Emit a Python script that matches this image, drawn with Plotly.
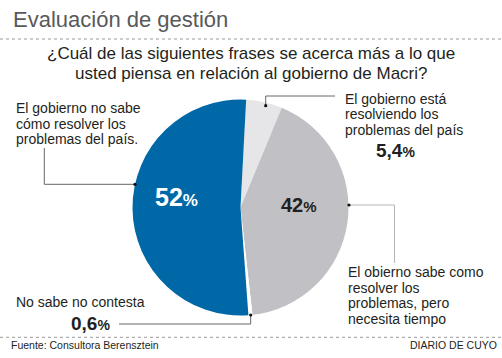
import plotly.graph_objects as go

W, H = 502, 358

# ---- data ----
slice_labels = ["El gobierno está resolviendo los problemas del país",
                "El obierno sabe como resolver los problemas, pero necesita tiempo",
                "No sabe no contesta",
                "El gobierno no sabe cómo resolver los problemas del país."]
slice_values = [5.4, 42, 0.6, 52]
slice_colors = ["#e6e6e8", "#c1c0c5", "#ffffff", "#0068a6"]
value_text = ["5,4", "42", "0,6", "52"]

title_text = "Evaluación de gestión"
subtitle_lines = ["¿Cuál de las siguientes frases se acerca más a lo que",
                  "usted piensa en relación al gobierno de Macri?"]
label_left = ["El gobierno no sabe", "cómo resolver los", "problemas del país."]
label_top_right = ["El gobierno está", "resolviendo los", "problemas del país"]
label_bottom_right = ["El obierno sabe como", "resolver los", "problemas, pero", "necesita tiempo"]
label_bottom_left = ["No sabe no contesta"]
source_text = "Fuente: Consultora Berensztein"
brand_text = "DIARIO DE CUYO"

FONT = "Liberation Sans, Arial, sans-serif"
NARROW = "Liberation Sans Narrow, Liberation Sans, Arial, sans-serif"
TXT = "#231f20"
LBL = 14          # label font size
LS = 15.8         # label line step

fig = go.Figure()

# pie geometry in pixels
cx, cy, r = 240.5, 207.5, 108
fig.add_trace(go.Pie(
    labels=slice_labels, values=slice_values, sort=False,
    direction="clockwise", rotation=3,
    marker=dict(colors=slice_colors, line=dict(width=0)),
    textinfo="none", hoverinfo="label+value", showlegend=False,
    domain=dict(x=[(cx - r) / W, (cx + r) / W], y=[1 - (cy + r) / H, 1 - (cy - r) / H]),
))

ann = []


def text(x, baseline, s, size, color=TXT, anchor="left", family=FONT):
    ann.append(dict(x=x, y=baseline - 0.3465 * size, xref="x", yref="y", text=s,
                    showarrow=False, xanchor=anchor, yanchor="middle", borderpad=0,
                    font=dict(family=family, size=size, color=color)))


def block(x, mid_baseline, lines):
    n = len(lines)
    for i, s in enumerate(lines):
        text(x, mid_baseline + (i - (n - 1) / 2) * LS, s, LBL)


def pct(v, small):
    return f"<b>{v}<span style='font-size:{small}px'>%</span></b>"


# title & subtitle
text(12, 27.3, title_text, 22, "#58595b")
text(251, 59.3, subtitle_lines[0], 17, TXT, "center")
text(251, 79.5, subtitle_lines[1], 17, TXT, "center")

# labels
block(15, 128.5, label_left)
block(344, 119.2, label_top_right)
text(395, 156.7, pct(value_text[0], 14), 19, TXT, "center")
block(347, 300.4, label_bottom_right)
text(15, 306.7, label_bottom_left[0], LBL)
text(90, 330, pct(value_text[2], 14), 19, TXT, "center")

# in-slice percentages
text(176.5, 206, pct(value_text[3], 17), 25, "white", "center")
text(298.5, 211.7, pct(value_text[1], 15), 20, TXT, "center")

# footer
text(10, 349, source_text, 10.5, TXT, "left", NARROW)
text(498, 348.5, brand_text, 10.5, TXT, "right", NARROW)

shapes = []
# dotted separators
for yy in (39, 337.3):
    shapes.append(dict(type="line", xref="x", yref="y", x0=0, x1=W, y0=yy, y1=yy,
                       line=dict(color="#9a9a9a", width=1, dash="dot")))
# leader lines
leaders = [
    ("M 44.3 148 L 44.3 184.3 L 135 184.3", "#666666", (135, 184.3)),
    ("M 265.7 105.7 L 265.7 96 L 335 96", "#666666", (265.7, 105.7)),
    ("M 349 205 L 394.5 205 L 394.5 263", "#b5b5b5", (349, 205)),
    ("M 250.7 315 L 250.7 324 L 119 324", "#666666", (250.7, 315)),
]
for path, col, (dx, dy) in leaders:
    shapes.append(dict(type="path", xref="x", yref="y", path=path,
                       line=dict(color=col, width=1)))
    shapes.append(dict(type="circle", xref="x", yref="y", x0=dx - 1.6, x1=dx + 1.6,
                       y0=dy - 1.6, y1=dy + 1.6, fillcolor="#111111", line=dict(width=0)))

fig.update_layout(
    width=W, height=H, margin=dict(l=0, r=0, t=0, b=0),
    paper_bgcolor="white", plot_bgcolor="white",
    xaxis=dict(range=[0, W], visible=False, fixedrange=True),
    yaxis=dict(range=[H, 0], visible=False, fixedrange=True),
    annotations=ann, shapes=shapes,
)

fig.write_html("out.html", config={"displayModeBar": False},
               post_script="document.body.style.margin='0';")
